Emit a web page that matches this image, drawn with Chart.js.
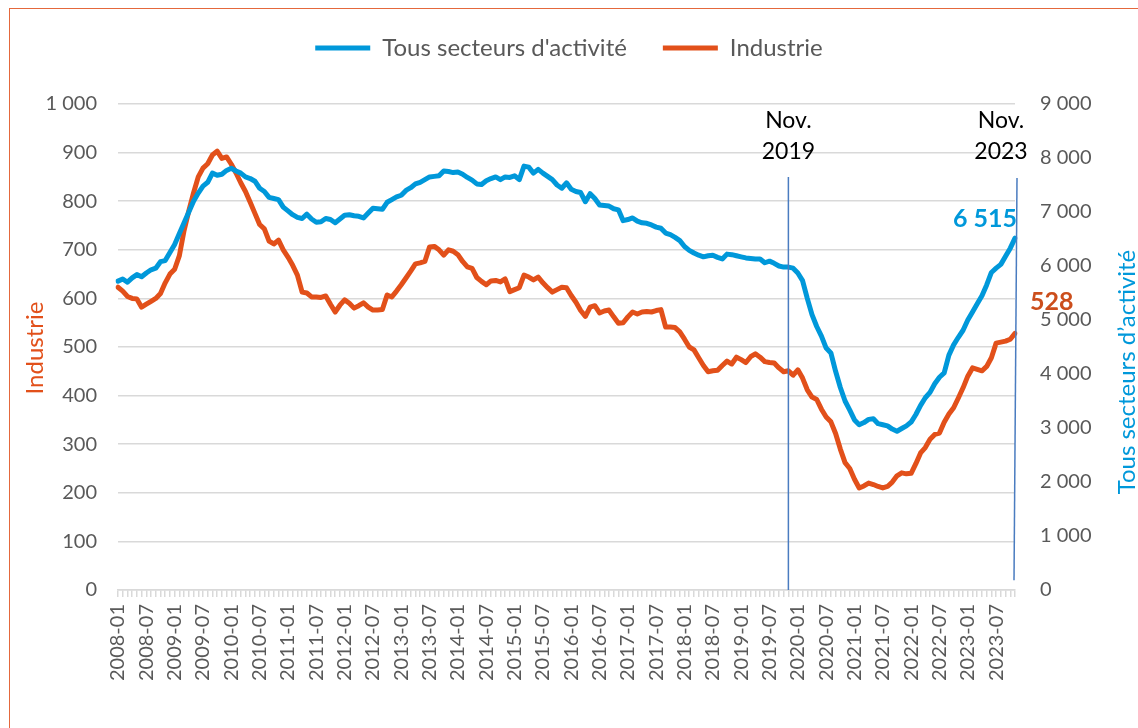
<!DOCTYPE html>
<html>
<head>
<meta charset="utf-8">
<script src="https://cdn.jsdelivr.net/npm/chart.js@4.4.1/dist/chart.umd.min.js"></script>
<style>
  body { margin: 0; background: #fff; }
  #wrap { position: relative; width: 1138px; height: 728px; overflow: hidden; }
  #frame { position: absolute; left: 9px; top: 8px; width: 1300px; height: 900px;
           border-left: 1.5px solid #E4683C; border-top: 1.5px solid #E4683C; }
  canvas { position: absolute; left: 0; top: 0; }
</style>
</head>
<body>
<div id="wrap">
  <div id="frame"></div>
  <canvas id="chart" width="1138" height="728"></canvas>
</div>
<script>
// mois de 2008-01 à 2023-11
const months = [];
for (let y = 2008; y <= 2023; y++) {
    for (let m = 1; m <= 12; m++) {
        if (y === 2023 && m > 11) break;
        months.push(y + '-' + String(m).padStart(2, '0'));
    }
}

// Tous secteurs d'activité (axe droit)
const tousSecteurs = [
    5720, 5760, 5700, 5780, 5840, 5800, 5870, 5930, 5960, 6080, 6100, 6250,
    6400, 6600, 6800, 7000, 7200, 7350, 7480, 7550, 7720, 7680, 7700, 7770,
    7810, 7760, 7720, 7650, 7620, 7570, 7440, 7380, 7270, 7250, 7230, 7090,
    7020, 6950, 6900, 6880, 6960, 6870, 6810, 6820, 6880, 6860, 6800, 6870,
    6940, 6950, 6930, 6920, 6890, 6980, 7070, 7060, 7050, 7180, 7230, 7280,
    7310, 7400, 7450, 7520, 7550, 7600, 7650, 7660, 7670, 7760, 7750, 7730,
    7740, 7700, 7640, 7590, 7520, 7510, 7580, 7620, 7650, 7600, 7650, 7640,
    7670, 7600, 7850, 7830, 7720, 7790, 7720, 7660, 7600, 7500, 7440, 7540,
    7420, 7380, 7360, 7190, 7340, 7250, 7130, 7120, 7110, 7060, 7040, 6840,
    6860, 6890, 6830, 6800, 6790, 6760, 6720, 6700, 6610, 6580, 6530, 6470,
    6360, 6290, 6240, 6200, 6170, 6190, 6200, 6160, 6130, 6220, 6210, 6190,
    6170, 6150, 6140, 6130, 6130, 6060, 6090, 6050, 6000, 5980, 5980, 5960,
    5870, 5730, 5400, 5100, 4880, 4700, 4480, 4390, 4050, 3750, 3500, 3330,
    3150, 3060, 3100, 3160, 3170, 3080, 3060, 3040, 2980, 2940, 2990, 3040,
    3110, 3250, 3420, 3560, 3660, 3820, 3940, 4020, 4350, 4540, 4680, 4810,
    5000, 5150, 5300, 5450, 5650, 5880, 5960, 6030, 6180, 6330, 6515
];

// Industrie (axe gauche)
const industrie = [
    623, 615, 604, 600, 599, 582, 588, 594, 600, 610, 632, 650,
    660, 688, 740, 780, 817, 850, 868, 877, 895, 903, 888, 891,
    876, 858, 838, 820, 798, 775, 752, 743, 718, 712, 720, 700,
    685, 668, 648, 613, 611, 603, 603, 602, 605, 588, 572, 586,
    597, 590, 580, 585, 591, 582, 576, 576, 577, 607, 603, 615,
    628, 642, 656, 671, 673, 676, 706, 707, 700, 689, 700, 697,
    690, 676, 665, 662, 643, 635, 628, 636, 637, 634, 640, 614,
    618, 622, 648, 644, 638, 644, 632, 622, 613, 618, 623, 622,
    606, 592, 575, 563, 582, 585, 570, 574, 576, 562, 549, 550,
    562, 572, 568, 572, 573, 572, 575, 577, 541, 541, 540, 531,
    516, 500, 494, 478, 462, 449, 451, 452, 462, 471, 465, 479,
    474, 468, 480, 486, 479, 470, 468, 467, 457, 449, 451, 442,
    453, 436, 412, 397, 392, 372, 356, 346, 322, 290, 262, 250,
    228, 210, 214, 220, 217, 213, 210, 213, 222, 235, 241, 239,
    240, 260, 282, 293, 310, 320, 323, 345, 362, 375, 395, 416,
    440, 457, 454, 451, 460, 478, 508, 510, 512, 516, 528
];

const leftTicks = [0, 100, 200, 300, 400, 500, 600, 700, 800, 900, 1000];
const rightTicks = [0, 1000, 2000, 3000, 4000, 5000, 6000, 7000, 8000, 9000];
const markers = ['2019-11', '2023-11'];

const BLUE = '#0098DA';
const ORANGE = '#E2501A';
const GREY = '#595959';
const FONT = 'Lato, "Open Sans", sans-serif';

function fmt(v) {
    return String(v).replace(/\B(?=(\d{3})+(?!\d))/g, ' ');
}

// lignes verticales, libellés et titres d'axes
const overlay = {
    id: 'overlay',
    beforeLayout(chart) {
        const lg = chart.legend;
        if (lg && !lg._patched) {
            const fit = lg.fit;
            lg.fit = function () { fit.call(this); this.height = 104; };
            lg._patched = true;
        }
    },
    afterDatasetsDraw(chart) {
        const ctx = chart.ctx;
        const x = chart.scales.x, yL = chart.scales.yL, yR = chart.scales.yR;
        ctx.save();

        // lignes Nov. 2019 / Nov. 2023
        ctx.strokeStyle = '#4A7CC0';
        ctx.lineWidth = 1.5;
        const top = yL.getPixelForValue(850);
        markers.forEach((m, k) => {
            const px = x.getPixelForValue(months.indexOf(m));
            ctx.beginPath();
            if (k === 0) {
                ctx.moveTo(px, top);
                ctx.lineTo(px, yL.getPixelForValue(0));
            } else {
                ctx.moveTo(px + 2, top + 1);
                ctx.lineTo(px - 1, yL.getPixelForValue(20));
            }
            ctx.stroke();
            ctx.fillStyle = '#000';
            ctx.font = '23px ' + FONT;
            ctx.textAlign = 'center';
            ctx.textBaseline = 'middle';
            const tx = k === 0 ? px : px - 14;
            ctx.fillText('Nov.', tx, top - 56);
            ctx.fillText(m.slice(0, 4), tx, top - 25);
        });

        // dernières valeurs
        const last = months.length - 1;
        const lx = x.getPixelForValue(last);
        ctx.font = 'bold 25px ' + FONT;
        ctx.textBaseline = 'middle';
        ctx.fillStyle = BLUE;
        ctx.textAlign = 'right';
        ctx.fillText(fmt(tousSecteurs[last]), lx + 2, yR.getPixelForValue(tousSecteurs[last]) - 19);
        ctx.fillStyle = '#CC4E1C';
        ctx.textAlign = 'left';
        ctx.fillText(String(industrie[last]), lx + 15, yL.getPixelForValue(industrie[last]) - 31);

        // titres d'axes
        ctx.font = '24px ' + FONT;
        ctx.textAlign = 'center';
        ctx.fillStyle = ORANGE;
        ctx.translate(35, 348);
        ctx.rotate(-Math.PI / 2);
        ctx.fillText('Industrie', 0, 0);
        ctx.setTransform(1, 0, 0, 1, 0, 0);
        ctx.fillStyle = BLUE;
        ctx.translate(1127, 372);
        ctx.rotate(-Math.PI / 2);
        ctx.fillText('Tous secteurs d\u2019activité', 0, 0);
        ctx.restore();
    }
};

const ctx = document.getElementById('chart').getContext('2d');
new Chart(ctx, {
    type: 'line',
    data: {
        labels: months,
        datasets: [{
            label: "Tous secteurs d'activité",
            data: tousSecteurs,
            yAxisID: 'yR',
            borderColor: BLUE,
            backgroundColor: BLUE,
            borderWidth: 5,
            pointRadius: 0,
            tension: 0,
            borderJoinStyle: 'round',
            borderCapStyle: 'round'
        }, {
            label: 'Industrie',
            data: industrie,
            yAxisID: 'yL',
            borderColor: ORANGE,
            backgroundColor: ORANGE,
            borderWidth: 5,
            pointRadius: 0,
            tension: 0,
            borderJoinStyle: 'round',
            borderCapStyle: 'round'
        }]
    },
    options: {
        responsive: false,
        animation: false,
        events: [],
        layout: { padding: 0 },
        plugins: {
            legend: {
                position: 'top',
                labels: {
                    boxWidth: 55,
                    boxHeight: 5,
                    padding: 36,
                    color: GREY,
                    font: { family: FONT, size: 24 },
                    generateLabels(chart) {
                        return Chart.defaults.plugins.legend.labels.generateLabels(chart)
                            .map(l => Object.assign(l, { lineWidth: 0 }));
                    }
                }
            },
            tooltip: { enabled: false }
        },
        scales: {
            x: {
                type: 'category',
                offset: false,
                afterFit(s) { s.height = 138; },
                grid: {
                    drawOnChartArea: false,
                    drawTicks: true,
                    tickLength: 7,
                    color: '#D9D9D9',
                    lineWidth: 1.5
                },
                border: { display: true, color: '#D9D9D9', width: 1.5 },
                ticks: {
                    autoSkip: false,
                    maxRotation: 90,
                    minRotation: 90,
                    padding: 7,
                    color: GREY,
                    font: { family: FONT, size: 20 },
                    callback: (v, i) => (i % 6 === 0 ? months[i] : '')
                }
            },
            yL: {
                position: 'left',
                min: 0,
                max: 1000,
                afterFit(s) { s.width = 118; },
                afterBuildTicks(s) { s.ticks = leftTicks.map(v => ({ value: v })); },
                grid: { color: '#D9D9D9', lineWidth: 1.5, drawTicks: false },
                border: { display: false },
                ticks: {
                    padding: 21,
                    color: GREY,
                    font: { family: FONT, size: 20 },
                    callback: v => fmt(v)
                }
            },
            yR: {
                position: 'right',
                min: 0,
                max: 9000,
                afterFit(s) { s.width = 123; },
                afterBuildTicks(s) { s.ticks = rightTicks.map(v => ({ value: v })); },
                grid: { drawOnChartArea: false, drawTicks: false },
                border: { display: false },
                ticks: {
                    padding: 25,
                    color: GREY,
                    font: { family: FONT, size: 20 },
                    callback: v => fmt(v)
                }
            }
        }
    },
    plugins: [overlay]
});
</script>
</body>
</html>
